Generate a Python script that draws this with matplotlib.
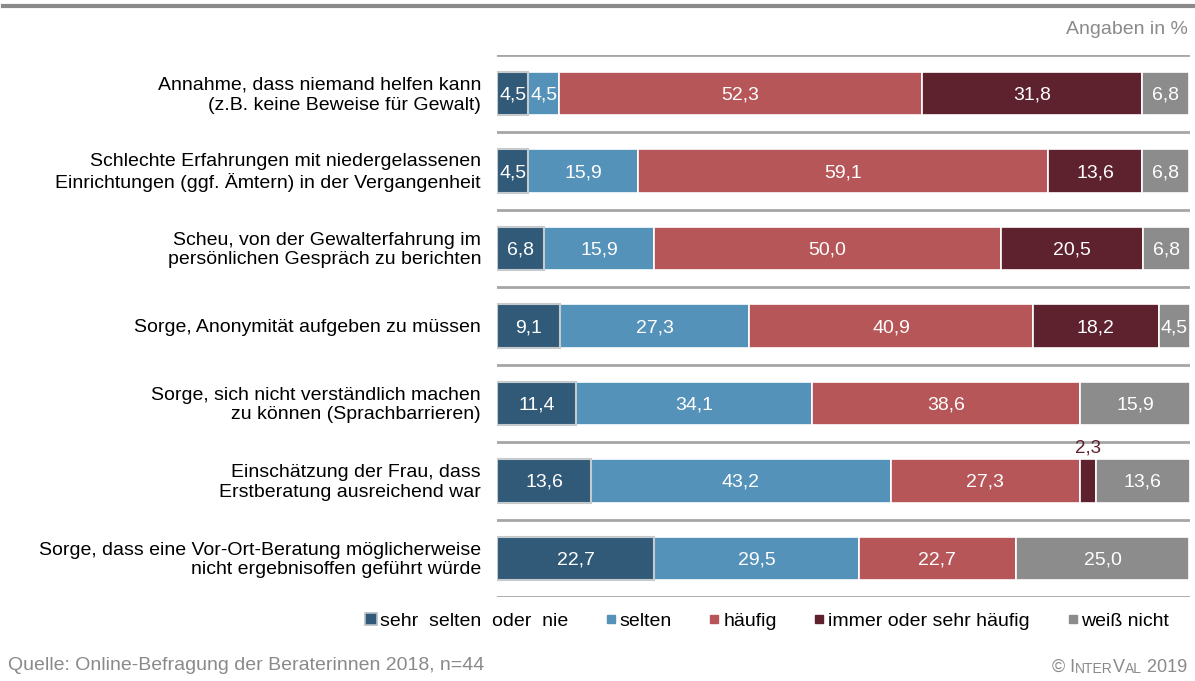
import matplotlib.pyplot as plt
from matplotlib.lines import Line2D
from matplotlib.text import Annotation

plt.rcParams['font.family'] = ['Liberation Sans', 'DejaVu Sans']

# Gründe gegen eine Inanspruchnahme, Anteile in Prozent
categories = [
    "Annahme, dass niemand helfen kann\n(z.B. keine Beweise für Gewalt)",
    "Schlechte Erfahrungen mit niedergelassenen\nEinrichtungen (ggf. Ämtern) in der Vergangenheit",
    "Scheu, von der Gewalterfahrung im\npersönlichen Gespräch zu berichten",
    "Sorge, Anonymität aufgeben zu müssen",
    "Sorge, sich nicht verständlich machen\nzu können (Sprachbarrieren)",
    "Einschätzung der Frau, dass\nErstberatung ausreichend war",
    "Sorge, dass eine Vor-Ort-Beratung möglicherweise\nnicht ergebnisoffen geführt würde",
]
sehr_selten = [4.5, 4.5, 6.8, 9.1, 11.4, 13.6, 22.7]
selten = [4.5, 15.9, 15.9, 27.3, 34.1, 43.2, 29.5]
haeufig = [52.3, 59.1, 50.0, 40.9, 38.6, 27.3, 22.7]
immer = [31.8, 13.6, 20.5, 18.2, 0.0, 2.3, 0.0]
weiss_nicht = [6.8, 6.8, 6.8, 4.5, 15.9, 13.6, 25.0]

series_names = ["sehr  selten  oder  nie", "selten", "häufig",
                "immer oder sehr häufig", "weiß nicht"]
series = [sehr_selten, selten, haeufig, immer, weiss_nicht]
colors = ["#315a78", "#5592b9", "#b75658", "#5e212e", "#8c8c8c"]
grey = "#8a8a8a"
fs = 14

W, H = 1195, 681
fig = plt.figure(figsize=(W / 100, H / 100), dpi=100)
ax = fig.add_axes([497 / W, 1 - 597 / H, 693 / W, 542 / H])

n = len(categories)
ypos = list(range(n))
left = [0.0] * n
for k, (vals, col) in enumerate(zip(series, colors)):
    if k == 0:
        ax.barh(ypos, vals, left=left, height=0.56, color=col,
                edgecolor="#c5cace", linewidth=1.5, zorder=3)
    else:
        ax.barh(ypos, vals, left=left, height=0.56, color=col,
                edgecolor="white", linewidth=1.2, zorder=2)
    for i, v in enumerate(vals):
        if v <= 0:
            continue
        txt = f"{v:.1f}".replace(".", ",")
        cx = left[i] + v / 2
        if v < 3:
            ax.text(cx, i - 0.31, txt, ha="center", va="bottom",
                    color=col, fontsize=fs - 0.5, zorder=4)
        else:
            ax.text(cx, i + 0.02, txt, ha="center", va="center",
                    color="white", fontsize=fs, zorder=4)
    left = [a + b for a, b in zip(left, vals)]

# Trennlinien zwischen den Zeilen
for y in range(n + 1):
    ax.axhline(y - 0.5, color="#a6a6a6", linewidth=2, zorder=1)

ax.set_xlim(0, 100)
ax.set_ylim(n - 0.5, -0.5)
ax.axis("off")

for i, cat in enumerate(categories):
    ax.text(-2.3, i + 0.02, cat, ha="right", va="center", fontsize=fs,
            linespacing=1.2, color="black")

# Legende
handles = []
for k, (name, col) in enumerate(zip(series_names, colors)):
    if k == 0:
        handles.append(Line2D([], [], marker="s", linestyle="none", markersize=8,
                              markerfacecolor=col, markeredgecolor="#b8bec4",
                              markeredgewidth=1.2, label=name))
    else:
        handles.append(Line2D([], [], marker="s", linestyle="none", markersize=6,
                              markerfacecolor=col, markeredgecolor=col, label=name))
fig.legend(handles=handles, loc="center left", bbox_to_anchor=(365 / W, 1 - 621 / H),
           ncol=5, frameon=False, fontsize=fs, handlelength=0.6,
           handletextpad=0.15, columnspacing=1.9, borderaxespad=0,
           borderpad=0)

# Rahmenelemente
fig.add_artist(Line2D([3 / W, 1], [1 - 6 / H, 1 - 6 / H], color="#8a8a8a",
                      linewidth=3))
fig.text(1188 / W, 1 - 30 / H, "Angaben in %", ha="right", va="center",
         fontsize=fs, color=grey)
fig.text(8 / W, 1 - 665 / H, "Quelle: Online-Befragung der Beraterinnen 2018, n=44",
         ha="left", va="center", fontsize=fs, color=grey)

# Copyright in Kapitälchen: Textstücke aneinandergereiht
pieces = [("© I", fs - 1), ("NTER", fs - 4), ("V", fs - 1), ("AL", fs - 4),
          (" 2019", fs - 1)]
prev = fig.text(1052 / W, 1 - 672 / H, pieces[0][0], ha="left", va="baseline",
                fontsize=pieces[0][1], color=grey)
for s, size in pieces[1:]:
    prev = fig.add_artist(Annotation(s, xy=(1, 0), xycoords=prev,
                                     va="bottom", ha="left", fontsize=size,
                                     color=grey))

fig.savefig("out.png", dpi=100)
